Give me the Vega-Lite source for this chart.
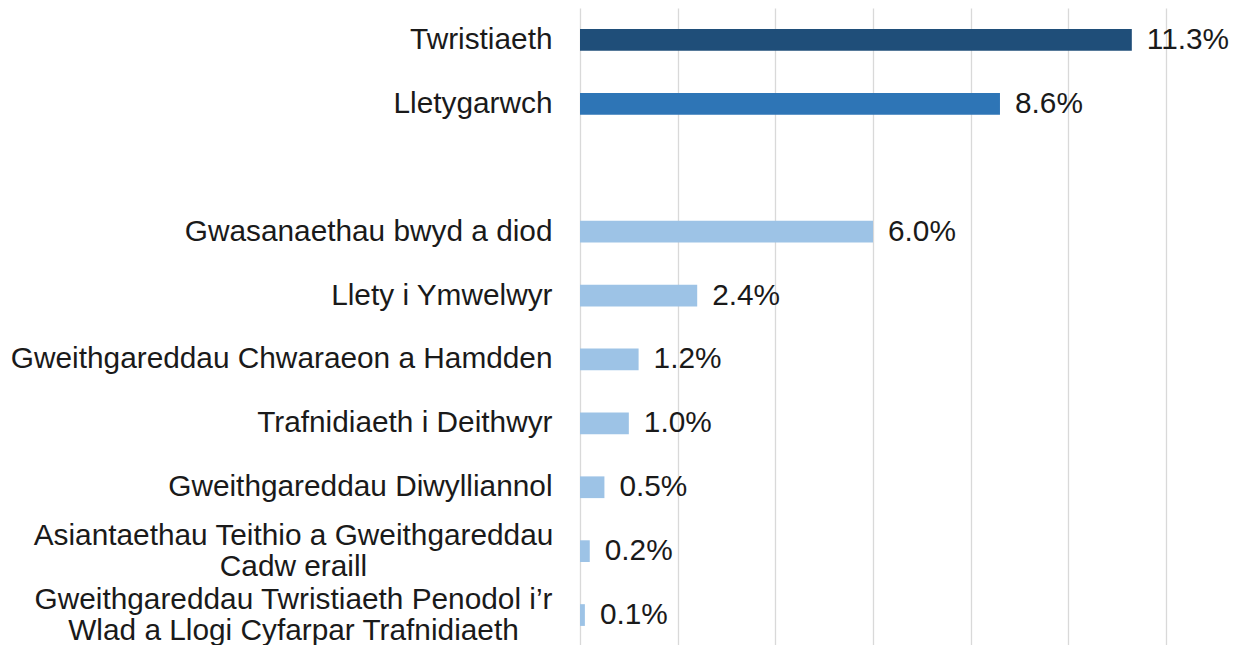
{
  "$schema": "https://vega.github.io/schema/vega-lite/v6.json",
  "autosize": "none",
  "width": 586,
  "height": 639,
  "padding": {"left": 580, "top": 8, "right": 73, "bottom": 0},
  "background": "white",
  "config": {
    "view": {"stroke": null},
    "font": "Liberation Sans"
  },
  "data": {
    "values": [
      {"category": "Twristiaeth", "value": 0.113, "group": "Twristiaeth"},
      {"category": "Lletygarwch", "value": 0.086, "group": "Lletygarwch"},
      {"category": "Gwasanaethau bwyd a diod\u00a0", "value": 0.060, "group": "Is-sector"},
      {"category": "Llety i Ymwelwyr", "value": 0.024, "group": "Is-sector"},
      {"category": "Gweithgareddau Chwaraeon a Hamdden", "value": 0.012, "group": "Is-sector"},
      {"category": "Trafnidiaeth i Deithwyr", "value": 0.010, "group": "Is-sector"},
      {"category": "Gweithgareddau Diwylliannol", "value": 0.005, "group": "Is-sector"},
      {"category": "Asiantaethau Teithio a Gweithgareddau|Cadw eraill", "value": 0.002, "group": "Is-sector"},
      {"category": "Gweithgareddau Twristiaeth Penodol i’r|Wlad a Llogi Cyfarpar Trafnidiaeth", "value": 0.001, "group": "Is-sector"}
    ]
  },
  "encoding": {
    "y": {
      "field": "category",
      "type": "nominal",
      "title": null,
      "sort": null,
      "scale": {
        "domain": [
          "Twristiaeth",
          "Lletygarwch",
          "",
          "Gwasanaethau bwyd a diod\u00a0",
          "Llety i Ymwelwyr",
          "Gweithgareddau Chwaraeon a Hamdden",
          "Trafnidiaeth i Deithwyr",
          "Gweithgareddau Diwylliannol",
          "Asiantaethau Teithio a Gweithgareddau|Cadw eraill",
          "Gweithgareddau Twristiaeth Penodol i’r|Wlad a Llogi Cyfarpar Trafnidiaeth"
        ],
        "paddingInner": 0.66,
        "paddingOuter": 0.33
      },
      "axis": {
        "labelExpr": "split(datum.value, '|')",
        "labelFont": "Liberation Sans",
        "labelFontSize": 29.8,
        "labelColor": "#1a1a1a",
        "labelLineHeight": 31,
        "labelPadding": {
          "condition": {"test": "indexof(datum.value, '|') >= 0", "value": 287},
          "value": 28
        },
        "labelAlign": {
          "condition": {"test": "indexof(datum.value, '|') >= 0", "value": "center"},
          "value": "right"
        },
        "labelLimit": 700,
        "labelOffset": {
          "condition": {"test": "indexof(datum.value, '|') >= 0", "value": -15.5},
          "value": 0
        },
        "ticks": false,
        "domain": false,
        "grid": false
      }
    },
    "x": {
      "field": "value",
      "type": "quantitative",
      "title": null,
      "scale": {"domain": [0, 0.12], "nice": false},
      "axis": {
        "values": [0, 0.02, 0.04, 0.06, 0.08, 0.1, 0.12],
        "grid": true,
        "gridColor": "#d9d9d9",
        "gridWidth": 1.3,
        "labels": false,
        "ticks": false,
        "domain": false
      }
    }
  },
  "layer": [
    {
      "mark": {"type": "bar"},
      "encoding": {
        "color": {
          "field": "group",
          "type": "nominal",
          "scale": {
            "domain": ["Twristiaeth", "Lletygarwch", "Is-sector"],
            "range": ["#1F4E79", "#2E75B6", "#9DC3E6"]
          },
          "legend": null
        }
      }
    },
    {
      "mark": {
        "type": "text",
        "align": "left",
        "baseline": "middle",
        "dx": 15,
        "fontSize": 29.8,
        "font": "Liberation Sans",
        "color": "#1a1a1a"
      },
      "encoding": {
        "text": {"field": "value", "type": "quantitative", "format": ".1%"}
      }
    }
  ]
}
